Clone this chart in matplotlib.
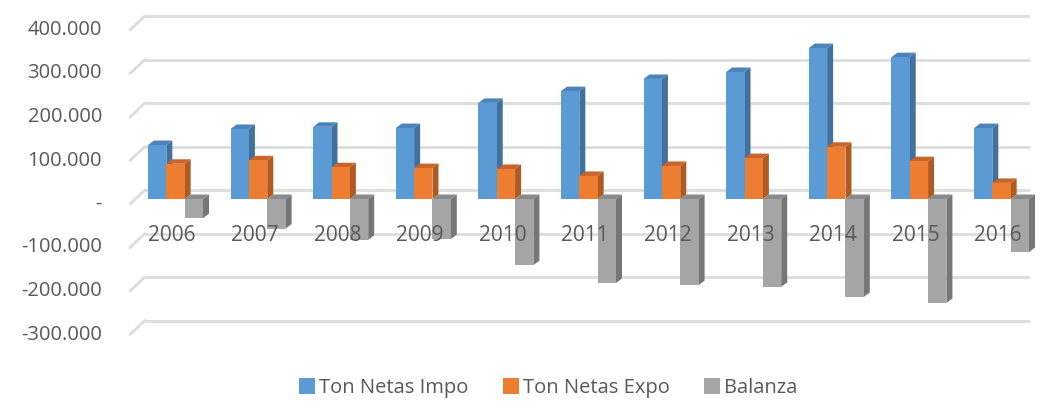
import numpy as np
import matplotlib.pyplot as plt
from matplotlib.patches import Polygon, Patch
from matplotlib.transforms import ScaledTranslation

plt.rcParams["font.family"] = ["Open Sans", "DejaVu Sans"]

years = ["2006", "2007", "2008", "2009", "2010", "2011",
         "2012", "2013", "2014", "2015", "2016"]
impo = [124000, 161000, 166000, 163000, 221000, 248000,
        276000, 292000, 347000, 326000, 163000]
expo = [81000, 89000, 73000, 71000, 69000, 53000,
        76000, 94000, 120000, 87000, 37000]
balanza = [-44000, -68000, -94000, -92000, -152000, -193000,
           -198000, -202000, -225000, -239000, -122000]
y_ticks = [400000, 300000, 200000, 100000, 0, -100000, -200000, -300000]
series_names = ["Ton Netas Impo", "Ton Netas Expo", "Balanza"]

FRONT = ["#5B9BD5", "#ED7D31", "#A5A5A5"]
SIDE = ["#41719C", "#AE5A21", "#767676"]
TOP = ["#4A84BA", "#C8652A", "#8A8A8A"]
TEXT = "#595959"
GRID = "#DCDCDC"

BAR_W = 0.222
DEPTH_PX = (6, 4.5)  # side/top depth of each bar, in pixels


def fmt(v):
    if v == 0:
        return "-"
    return f"{v:,.0f}".replace(",", ".")


def draw_bar(ax, x0, val, k, ddx, ddy):
    x1 = x0 + BAR_W
    front = Polygon([(x0, 0), (x1, 0), (x1, val), (x0, val)],
                    closed=True, fc=FRONT[k], ec="none", zorder=3)
    top_y = max(val, 0)
    side_lo = min(val, 0)
    side = Polygon([(x1, side_lo), (x1 + ddx, side_lo + ddy),
                    (x1 + ddx, top_y + ddy), (x1, top_y)],
                   closed=True, fc=SIDE[k], ec="none", zorder=3)
    top = Polygon([(x0, top_y), (x1, top_y), (x1 + ddx, top_y + ddy),
                   (x0 + ddx, top_y + ddy)],
                  closed=True, fc=TOP[k], ec="none", zorder=3)
    for p in (side, top, front):
        p.set_clip_on(False)
        ax.add_patch(p)


def main():
    fig = plt.figure(figsize=(10.41, 4.01), dpi=100)
    W, H = 1041, 401
    left, right, top, bottom = 130, 1030, 10, 340
    ax = fig.add_axes([left / W, (H - bottom) / H, (right - left) / W, (bottom - top) / H])

    y0_px = 199
    px_per_ton = 0.435 / 1000
    px_per_x = 82.6
    ax.set_xlim(-(175.5 - left) / px_per_x, (right - 175.5) / px_per_x)
    ax.set_ylim((y0_px - bottom) / px_per_ton, (y0_px - top) / px_per_ton)
    ax.axis("off")

    ddx = DEPTH_PX[0] / px_per_x
    ddy = DEPTH_PX[1] / px_per_ton

    # gridlines: slanted front piece and back horizontal line
    ytr = ax.get_yaxis_transform()
    back = ytr + ScaledTranslation(0.15, 0.09, fig.dpi_scale_trans)
    front = ytr + ScaledTranslation(0, -0.05, fig.dpi_scale_trans)
    for v in y_ticks:
        ax.plot([0, 1], [v, v], transform=back, color=GRID, lw=2.0,
                solid_capstyle="butt", zorder=1)
        ax.annotate("", xy=(0, v), xycoords=back,
                    xytext=(0, v), textcoords=front,
                    arrowprops=dict(arrowstyle="-", color=GRID, lw=2.0,
                                    shrinkA=0, shrinkB=0))
        lab_tr = ytr + ScaledTranslation(-0.28, -0.05, fig.dpi_scale_trans)
        ax.text(0, v, fmt(v), transform=lab_tr, ha="right", va="center",
                fontsize=14.5, color=TEXT)

    series = [impo, expo, balanza]
    for i in range(len(years)):
        for k in range(3):
            x0 = i - 1.5 * BAR_W + k * BAR_W
            draw_bar(ax, x0, series[k][i], k, ddx, ddy)
        ax.text(i - 0.04, -83000, years[i], ha="center", va="center",
                fontsize=15, color=TEXT, zorder=5)

    handles = [Patch(fc=FRONT[k], ec="none") for k in range(3)]
    fig.legend(handles, series_names, loc="center", ncol=3,
               bbox_to_anchor=(548 / W, 13 / H), frameon=False,
               fontsize=14.5, labelcolor=TEXT, handlelength=0.8,
               handleheight=0.8, handletextpad=0.2, columnspacing=1.7)

    fig.savefig("out.png", dpi=100)


if __name__ == "__main__":
    main()
